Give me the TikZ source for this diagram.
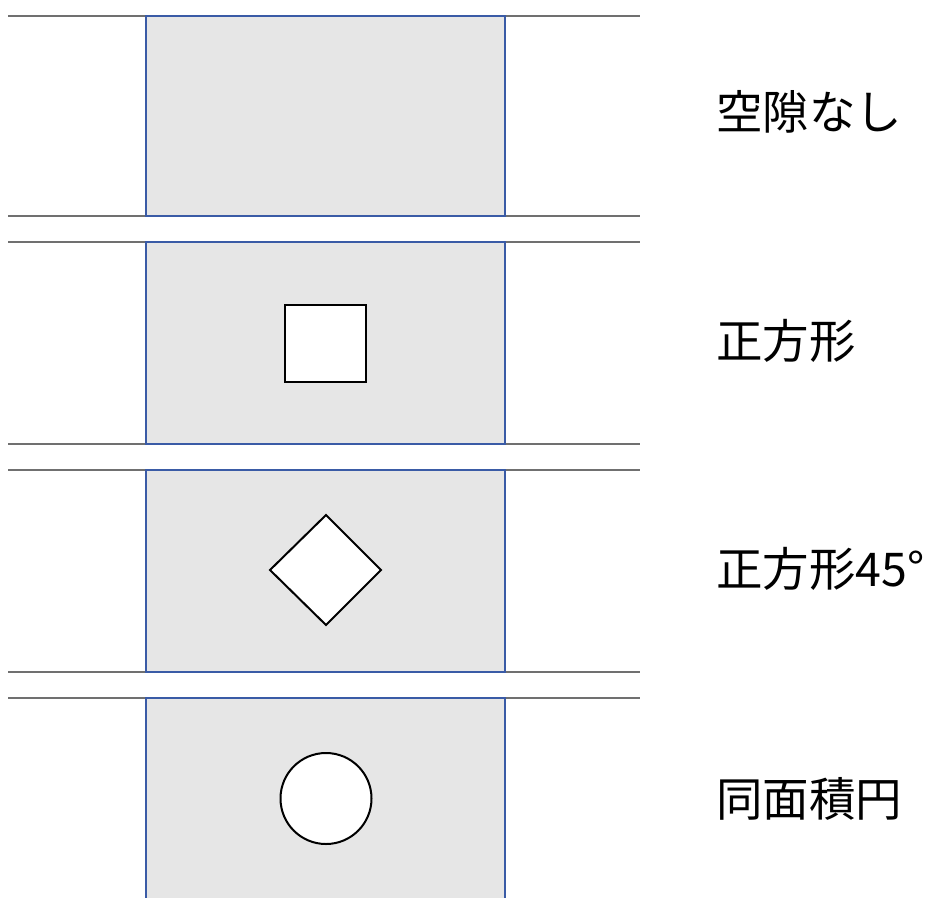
\documentclass[tikz,border=0pt]{standalone}
\usepackage{fontspec}
\newfontfamily\cjk{Noto Sans CJK JP}
\definecolor{panelfill}{HTML}{E6E6E6}
\definecolor{panelblue}{HTML}{3A5BA6}
\definecolor{linegray}{HTML}{707070}
\begin{document}
\begin{tikzpicture}[x=1pt,y=-1pt,
  edge/.style={draw=linegray,line width=1.8pt},
  border/.style={draw=panelblue,line width=2pt},
  hole/.style={fill=white,draw=black,line width=2pt},
  lbl/.style={anchor=west,inner sep=0pt,font=\cjk\fontsize{46.5}{52}\selectfont}]
\useasboundingbox (0,0) rectangle (933,897);
% panels
\fill[panelfill] (146,16) rectangle (505,216);
\fill[panelfill] (146,242) rectangle (505,444);
\fill[panelfill] (146,470) rectangle (505,672);
\fill[panelfill] (146,698) rectangle (505,900);
% horizontal boundary lines
\foreach \y in {16,216,242,444,470,672,698}
  \draw[edge] (8,\y) -- (640,\y);
% blue panel borders
\draw[border] (146,216) -- (146,16) -- (505,16) -- (505,216) -- cycle;
\draw[border] (146,444) -- (146,242) -- (505,242) -- (505,444) -- cycle;
\draw[border] (146,672) -- (146,470) -- (505,470) -- (505,672) -- cycle;
\draw[border] (146,900) -- (146,698) -- (505,698) -- (505,900);
% holes
\node[hole,minimum width=81pt,minimum height=77pt,inner sep=0pt] (sq) at (325.5,343.5) {};
\draw[hole] (326,515) -- (381,570) -- (326,625) -- (270,570) -- cycle;
\node[hole,circle,minimum size=91pt,inner sep=0pt] (ci) at (326,798.5) {};
% labels
\node[lbl] (t1) at (716,112) {空隙なし};
\node[lbl] (t2) at (716,341) {正方形};
\node[lbl] (t3) at (716,569) {正方形45°};
\node[lbl] (t4) at (716,799) {同面積円};
\end{tikzpicture}
\end{document}
